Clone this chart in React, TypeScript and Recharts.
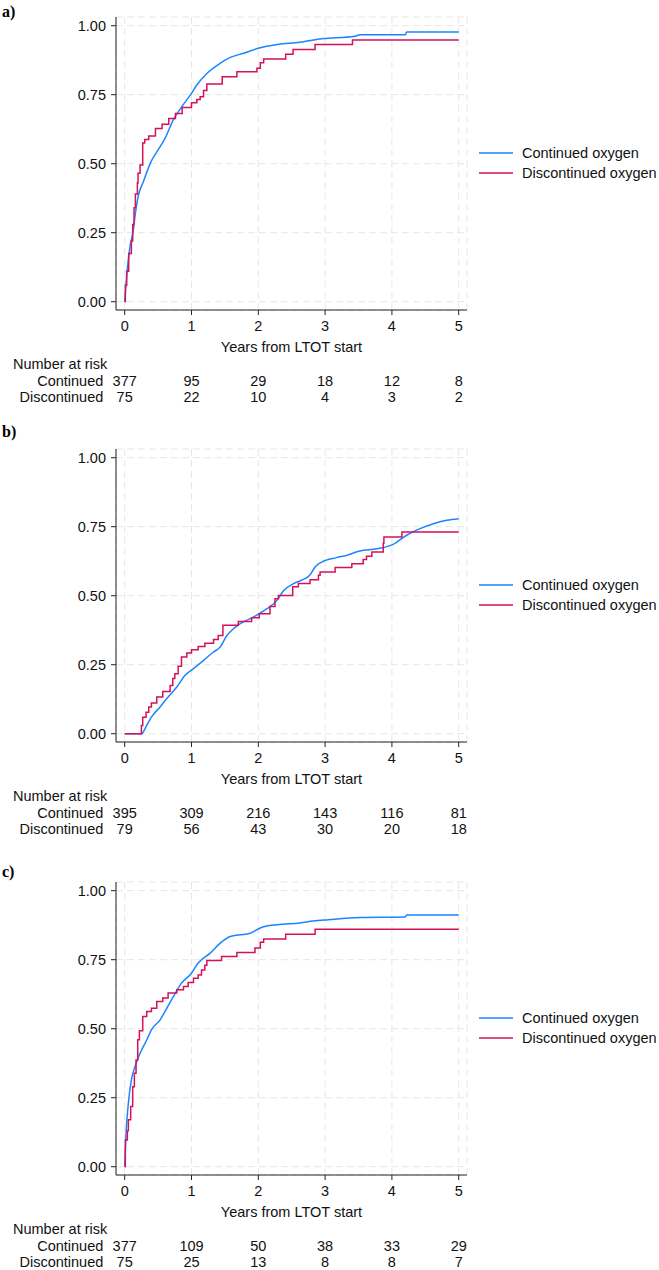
import { LineChart, Line, XAxis, YAxis, CartesianGrid } from "recharts";

const BLUE = "#1a85ff";
const RED = "#d41159";

const years = [0, 1, 2, 3, 4, 5];
const yTicks = [0, 0.25, 0.5, 0.75, 1];

// number at risk
const riskContA = [377, 95, 29, 18, 12, 8];
const riskDiscA = [75, 22, 10, 4, 3, 2];
const riskContB = [395, 309, 216, 143, 116, 81];
const riskDiscB = [79, 56, 43, 30, 20, 18];
const riskContC = [377, 109, 50, 38, 33, 29];
const riskDiscC = [75, 25, 13, 8, 8, 7];

// cumulative incidence, [years, value]
const contA = [
  [0, 0], [0.04, 0.12], [0.08, 0.2], [0.13, 0.26], [0.16, 0.32], [0.2, 0.38], [0.28, 0.435],
  [0.4, 0.51], [0.5, 0.55], [0.6, 0.59], [0.73, 0.66], [0.88, 0.715], [1.0, 0.755],
  [1.08, 0.785], [1.23, 0.827], [1.43, 0.864], [1.58, 0.885], [1.78, 0.9], [2.0, 0.918],
  [2.28, 0.932], [2.62, 0.94], [2.92, 0.952], [3.02, 0.954], [3.45, 0.962], [3.52, 0.967],
  [4.2, 0.967], [4.22, 0.977], [5.0, 0.977],
];
const discA = [
  [0, 0], [0.01, 0.06], [0.03, 0.11], [0.06, 0.175], [0.1, 0.22], [0.12, 0.28], [0.14, 0.34],
  [0.16, 0.39], [0.19, 0.43], [0.2, 0.465], [0.23, 0.495], [0.27, 0.575], [0.3, 0.588],
  [0.36, 0.6], [0.46, 0.628], [0.56, 0.643], [0.66, 0.664], [0.76, 0.682], [0.86, 0.704],
  [1.0, 0.721], [1.08, 0.733], [1.13, 0.743], [1.18, 0.765], [1.23, 0.789], [1.46, 0.815],
  [1.68, 0.833], [1.98, 0.846], [2.03, 0.866], [2.08, 0.879], [2.41, 0.897], [2.52, 0.914],
  [2.85, 0.932], [3.41, 0.948], [5.0, 0.948],
];
const contB = [
  [0, 0], [0.25, 0], [0.33, 0.03], [0.4, 0.06], [0.53, 0.097], [0.65, 0.133], [0.78, 0.169],
  [0.9, 0.211], [1.03, 0.236], [1.18, 0.266], [1.33, 0.296], [1.43, 0.314], [1.53, 0.356],
  [1.6, 0.374], [1.73, 0.399], [1.93, 0.423], [2.13, 0.453], [2.28, 0.483], [2.38, 0.519],
  [2.52, 0.543], [2.77, 0.574], [2.85, 0.604], [2.95, 0.622], [3.17, 0.638], [3.32, 0.646],
  [3.52, 0.662], [3.77, 0.67], [4.02, 0.686], [4.22, 0.719], [4.42, 0.743], [4.62, 0.761],
  [4.82, 0.773], [5.0, 0.779],
];
const discB = [
  [0, 0], [0.25, 0.03], [0.27, 0.06], [0.32, 0.078], [0.36, 0.097], [0.4, 0.111], [0.48, 0.133],
  [0.57, 0.153], [0.68, 0.175], [0.72, 0.2], [0.75, 0.217], [0.8, 0.244], [0.85, 0.278],
  [0.93, 0.292], [1.0, 0.304], [1.1, 0.316], [1.2, 0.328], [1.33, 0.341], [1.4, 0.356],
  [1.47, 0.393], [1.7, 0.407], [1.9, 0.42], [2.015, 0.435], [2.175, 0.461], [2.25, 0.489],
  [2.3, 0.501], [2.515, 0.532], [2.6, 0.544], [2.775, 0.558], [2.9, 0.574], [2.925, 0.586],
  [3.15, 0.602], [3.4, 0.616], [3.57, 0.631], [3.62, 0.643], [3.7, 0.658], [3.87, 0.69],
  [3.88, 0.713], [4.15, 0.731], [5.0, 0.731],
];
const contC = [
  [0, 0], [0.02, 0.12], [0.055, 0.23], [0.1, 0.314], [0.155, 0.363], [0.23, 0.411], [0.33, 0.459],
  [0.4, 0.496], [0.53, 0.532], [0.63, 0.574], [0.73, 0.617], [0.85, 0.665], [1.0, 0.701],
  [1.1, 0.738], [1.28, 0.774], [1.43, 0.81], [1.58, 0.834], [1.88, 0.846], [2.03, 0.865],
  [2.28, 0.877], [2.62, 0.883], [2.82, 0.89], [3.05, 0.895], [3.52, 0.903], [4.2, 0.905],
  [4.22, 0.912], [5.0, 0.912],
];
const discC = [
  [0, 0], [0.01, 0.097], [0.04, 0.13], [0.055, 0.17], [0.09, 0.218], [0.12, 0.29], [0.145, 0.339],
  [0.17, 0.387], [0.195, 0.46], [0.22, 0.493], [0.27, 0.544], [0.33, 0.562], [0.4, 0.574],
  [0.48, 0.599], [0.57, 0.611], [0.65, 0.629], [0.78, 0.641], [0.88, 0.653], [0.95, 0.667],
  [1.03, 0.683], [1.1, 0.695], [1.15, 0.713], [1.2, 0.73], [1.23, 0.747], [1.45, 0.762],
  [1.68, 0.776], [1.95, 0.792], [2.03, 0.813], [2.08, 0.825], [2.41, 0.842], [2.85, 0.86],
  [5.0, 0.86],
];

const toRows = (pts: number[][]) => pts.map(([t, v]) => ({ t, v }));

const FS = 14.5;

const legendItems = [
  { name: "Continued oxygen", color: BLUE },
  { name: "Discontinued oxygen", color: RED },
];

const RiskTick = (props: any) => {
  const { x, y, payload, cont, disc } = props;
  const i = years.indexOf(payload.value);
  return (
    <g fontSize={FS} fill="#111">
      <text x={x} y={y} dy="0.71em" textAnchor="middle">{payload.value}</text>
      <text x={x} y={y + 55} dy="0.71em" textAnchor="middle">{cont[i]}</text>
      <text x={x} y={y + 71} dy="0.71em" textAnchor="middle">{disc[i]}</text>
      {i === 0 && (
        <>
          <text x={x - 111.7} y={y + 38} dy="0.71em" textAnchor="start">Number at risk</text>
          <text x={x - 21.4} y={y + 55} dy="0.71em" textAnchor="end">Continued</text>
          <text x={x - 21.4} y={y + 71} dy="0.71em" textAnchor="end">Discontinued</text>
        </>
      )}
    </g>
  );
};

const KeyBox = () => (
  <svg width={190} height={50} style={{ position: "absolute", left: 470, top: 138 }}>
    {legendItems.map((item, i) => (
      <g key={item.name}>
        <line x1={9} x2={43} y1={15 + i * 20} y2={15 + i * 20} stroke={item.color} strokeWidth={1.5} />
        <text x={52} y={15 + i * 20} dy="0.36em" fontSize={FS} fill="#111">{item.name}</text>
      </g>
    ))}
  </svg>
);

const Panel = ({ top, cont, disc, riskCont, riskDisc }: any) => (
  <div style={{ position: "absolute", left: 0, top, width: 659, height: 405 }}>
    <LineChart width={659} height={405} margin={{ top: 17, right: 192, bottom: 0, left: 56 }}>
      <CartesianGrid stroke="#e6e6e6" strokeDasharray="7 4" />
      <XAxis
        dataKey="t"
        type="number"
        domain={[-0.13, 5.124]}
        ticks={years}
        height={95}
        tickSize={5}
        tickMargin={6}
        stroke="#222"
        tick={(p: any) => <RiskTick {...p} cont={riskCont} disc={riskDisc} />}
        label={{ value: "Years from LTOT start", position: "insideTop", offset: 32, fill: "#111", fontSize: FS }}
      />
      <YAxis
        type="number"
        domain={[-0.03, 1.0315]}
        ticks={yTicks}
        width={60}
        tickSize={5}
        tickMargin={5}
        stroke="#222"
        tick={{ fill: "#111", fontSize: FS }}
        tickFormatter={(v: number) => v.toFixed(2)}
      />
      <Line data={toRows(cont)} dataKey="v" type="monotone" stroke={BLUE} strokeWidth={1.5} dot={false} isAnimationActive={false} />
      <Line data={toRows(disc)} dataKey="v" type="stepAfter" stroke={RED} strokeWidth={1.5} dot={false} isAnimationActive={false} />
    </LineChart>
    <KeyBox />
  </div>
);

const PanelLabel = ({ text, y }: { text: string; y: number }) => (
  <div style={{ position: "absolute", left: 2, top: y - 10, lineHeight: "20px", fontFamily: "'Liberation Serif', serif", fontWeight: "bold", fontSize: 16, color: "#000" }}>
    {text}
  </div>
);

export default function App() {
  return (
    <div style={{ position: "absolute", left: 0, top: 0, width: 659, height: 1270, overflow: "hidden", background: "#fff", fontFamily: "'Liberation Sans', Arial, sans-serif" }}>
      <Panel top={0} cont={contA} disc={discA} riskCont={riskContA} riskDisc={riskDiscA} />
      <Panel top={432} cont={contB} disc={discB} riskCont={riskContB} riskDisc={riskDiscB} />
      <Panel top={865} cont={contC} disc={discC} riskCont={riskContC} riskDisc={riskDiscC} />
      <PanelLabel text="a)" y={12} />
      <PanelLabel text="b)" y={432} />
      <PanelLabel text="c)" y={872} />
    </div>
  );
}
